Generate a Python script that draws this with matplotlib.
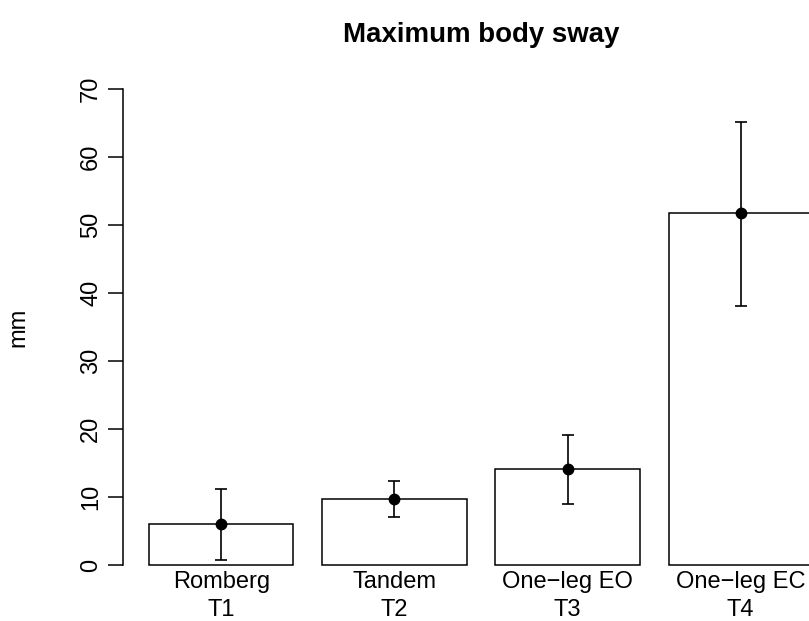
import numpy as np
import matplotlib
matplotlib.use("Agg")
import matplotlib.pyplot as plt
from matplotlib.transforms import blended_transform_factory

plt.rcParams['font.family'] = ['Liberation Sans', 'DejaVu Sans']

# balance tests, mean max sway (mm) with error limits
tests = ["Romberg", "Tandem", "One\u2212leg EO", "One\u2212leg EC"]
codes = ["T1", "T2", "T3", "T4"]
sway_mean = [6.0, 9.7, 14.1, 51.7]
sway_low = [0.7, 7.0, 9.0, 38.1]
sway_high = [11.1, 12.3, 19.1, 65.2]
yticks = [0, 10, 20, 30, 40, 50, 60, 70]

W, H = 809, 621
fig = plt.figure(figsize=(W / 100, H / 100), dpi=100)
ax = fig.add_axes([122.7 / W, 37 / H, 1 - 122.7 / W, 514 / H])

# barplot-like positions: width 1, space 0.2
x = 0.2 + np.arange(len(tests)) * 1.2 + 0.5
mean = np.array(sway_mean)
yerr = np.vstack([mean - np.array(sway_low), np.array(sway_high) - mean])

ax.bar(x, mean, width=1.0, color="white", edgecolor="black", linewidth=1.1, zorder=1)
ax.errorbar(x, mean, yerr=yerr, fmt="o", color="black", ms=7.5, elinewidth=1.2,
            capsize=4, capthick=1.2, zorder=3)

ax.set_xlim(0.016, 4.774)
ax.set_ylim(-2.8, 72.8)
for s in ["top", "right", "bottom"]:
    ax.spines[s].set_visible(False)
ax.spines["left"].set_bounds(0, 70)
ax.spines["left"].set_linewidth(1.1)
ax.set_xticks([])
ax.set_yticks(yticks)
ax.set_yticklabels([str(v) for v in yticks], rotation=90, va="center")
ax.tick_params(axis="y", length=10.8, width=1.1, pad=4, labelsize=17)

# two-line category names under the bars
tr = blended_transform_factory(ax.transData, fig.transFigure)
for xi, name, code in zip(x, tests, codes):
    ax.text(xi, 1 - 588 / H, name, transform=tr, ha="center", va="baseline",
            fontsize=17, clip_on=False)
    ax.text(xi, 1 - 616 / H, code, transform=tr, ha="center", va="baseline",
            fontsize=17, clip_on=False)

ax.text(2.5, 1 - 42 / H, "Maximum body sway", transform=tr, ha="center",
        va="baseline", fontsize=19.9, fontweight="bold", clip_on=False)
fig.text(18 / W, 1 - 327 / H, "mm", rotation=90, ha="center", va="center", fontsize=17)

fig.savefig("out.png", dpi=100)
